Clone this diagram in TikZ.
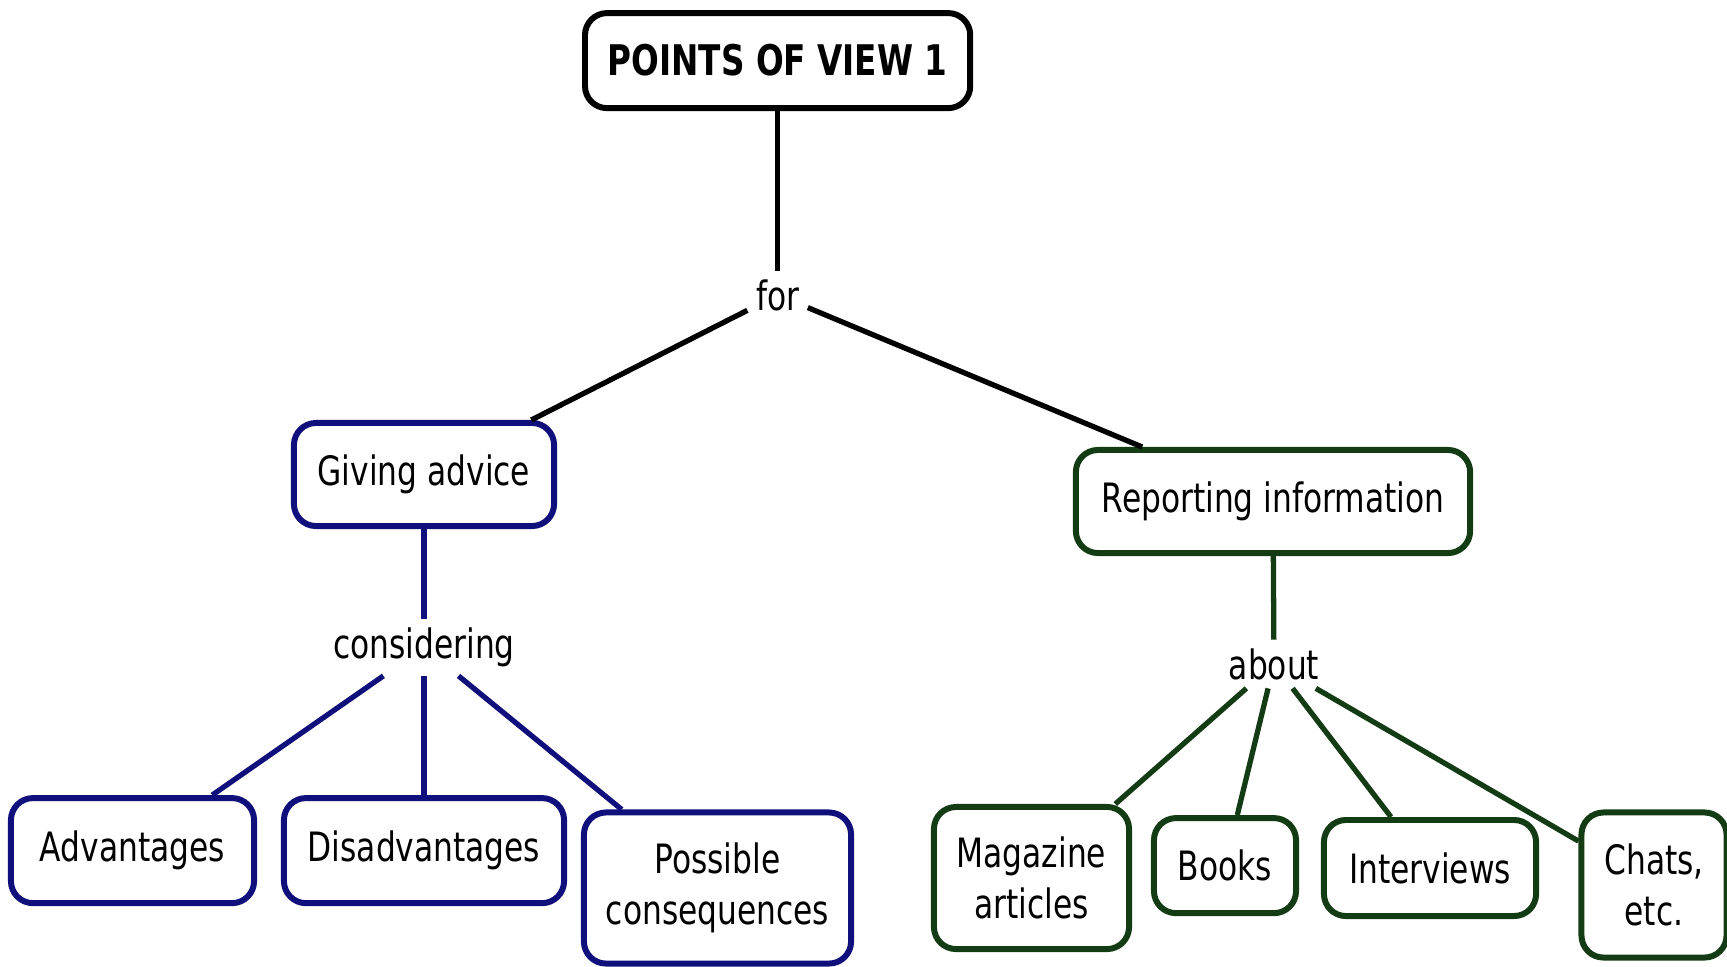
\documentclass[tikz,border=0pt]{standalone}
\usepackage{fontspec}
\setmainfont{DejaVu Sans Condensed}[FakeStretch=0.86]
\definecolor{navyline}{RGB}{16,16,124}
\definecolor{darkgreen}{RGB}{20,60,20}
\begin{document}
\begin{tikzpicture}[x=0.01cm,y=-0.01cm,
	font=\fontsize{11.5}{14.4}\selectfont,
	box/.style={draw,line width=1.7pt,rounded corners=0.22cm,align=center,fill=white},
	link/.style={fill=white,inner sep=0.08cm}]
	\useasboundingbox (0,0) rectangle (1727,966);
	\node[box,minimum width=3.85cm,minimum height=0.95cm,font=\fontsize{12}{14}\selectfont\bfseries] (root) at (777.6,60.6) {POINTS OF VIEW 1};
	\node[link] (for) at (777.6,295) {for};
	\node[box,draw=navyline,minimum width=2.6cm,minimum height=1.03cm] (giving) at (424,474.5) {Giving advice};
	\node[box,draw=darkgreen,minimum width=3.94cm,minimum height=1.03cm] (reporting) at (1273,501.5) {Reporting information};
	\node[link] (considering) at (424,647.6) {considering};
	\node[link] (about) at (1274,664) {about};
	% giving advice
	\node[box,draw=navyline,minimum width=2.43cm,minimum height=1.05cm] (adv) at (132.5,850.6) {Advantages};
	\node[box,draw=navyline,minimum width=2.8cm,minimum height=1.05cm] (disadv) at (424,850.6) {Disadvantages};
	\node[box,draw=navyline,minimum width=2.67cm,minimum height=1.51cm] (possible) at (717.5,888) {Possible\\consequences};
	% reporting information
	\node[box,draw=darkgreen,minimum width=1.95cm,minimum height=1.42cm] (magazine) at (1031.5,878) {Magazine\\articles};
	\node[box,draw=darkgreen,minimum width=1.42cm,minimum height=0.95cm] (books) at (1225,865.6) {Books};
	\node[box,draw=darkgreen,minimum width=2.12cm,minimum height=0.96cm] (interviews) at (1430,868) {Interviews};
	\node[box,draw=darkgreen,minimum width=1.45cm,minimum height=1.45cm] (chats) at (1654,885) {Chats,\\etc.};
	\begin{scope}[line width=1.5pt]
	\draw (root) -- (for);
	\draw (for) -- (giving);
	\draw (for) -- (reporting);
	\draw[navyline] (giving) -- (considering);
	\foreach \n in {adv,disadv,possible}
		\draw[navyline] (considering) -- (\n);
	\draw[darkgreen] (reporting) -- (about);
	\foreach \n in {magazine,books,interviews,chats}
		\draw[darkgreen] (about) -- (\n);
	\end{scope}
\end{tikzpicture}
\end{document}
